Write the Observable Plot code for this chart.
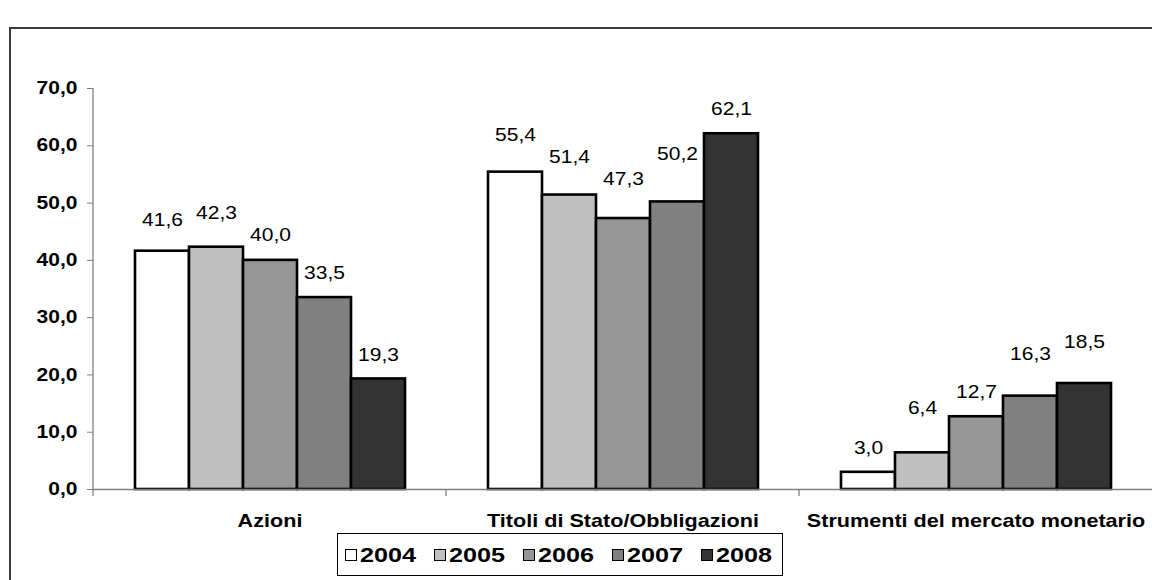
<!DOCTYPE html>
<html>
<head>
<meta charset="utf-8">
<script src="https://cdn.jsdelivr.net/npm/d3@7"></script>
<script src="https://cdn.jsdelivr.net/npm/@observablehq/plot@0.6"></script>
<style>
  html, body { margin: 0; padding: 0; background: #fff; }
  body { width: 1152px; height: 580px; overflow: hidden; position: relative;
         font-family: "Liberation Sans", Arial, sans-serif; }
  #chart { position: absolute; left: 0; top: 0; }
  #frame { position: absolute; left: 9px; top: 27px; width: 1170px; height: 620px;
           border: 2px solid #3a3a3a; box-sizing: border-box; pointer-events: none; }
  #legend { position: absolute; left: 337px; top: 533px; width: 446px; height: 43px;
            border: 1.5px solid #000; box-sizing: border-box; background: #fff; }
  #legend .item { position: absolute; top: 0; height: 100%; display: flex; align-items: center; }
  #legend .swatch { width: 12px; height: 12px; border: 1px solid #000; box-sizing: border-box; margin-right: 3px; }
  #legend .lbl { display: inline-block; font-weight: bold; font-size: 21px; line-height: 21px;
                 transform: scaleX(1.2); transform-origin: left center; color: #000; }
  #chart g[aria-label="y-axis tick label"] { font-size: 17.5px; font-weight: bold; fill: #000; }
  #chart g[aria-label="fx-axis tick label"] { font-size: 18px; font-weight: bold; fill: #000; }
</style>
</head>
<body>
<div id="chart"></div>
<div id="frame"></div>
<div id="legend"></div>
<script>
// Asset mix by instrument type, percentages per year
const categories = ["Azioni", "Titoli di Stato/Obbligazioni", "Strumenti del mercato monetario"];
const years = ["2004", "2005", "2006", "2007", "2008"];
const azioni = [41.6, 42.3, 40.0, 33.5, 19.3];
const titoli = [55.4, 51.4, 47.3, 50.2, 62.1];
const strumenti = [3.0, 6.4, 12.7, 16.3, 18.5];
const yTicks = [0, 10, 20, 30, 40, 50, 60, 70];
const yearColors = ["#ffffff", "#c0c0c0", "#969696", "#808080", "#333333"];

// how far (px) each value label sits above its bar
const azioniLift = [31, 34, 25, 24, 24];
const titoliLift = [37, 38, 39, 48, 24];
const strumentiLift = [24, 44, 24, 42, 41];

const STRETCH = 1.2; // horizontal widening of the typeface
const fmt = v => v.toFixed(1).replace(".", ",");

const series = [azioni, titoli, strumenti];
const lifts = [azioniLift, titoliLift, strumentiLift];
const rows = [];
categories.forEach((c, ci) => years.forEach((yr, yi) =>
  rows.push({category: c, year: yr, value: series[ci][yi], lift: lifts[ci][yi]})));

const labelMarks = [...new Set(rows.map(r => r.lift))].map(l =>
  Plot.text(rows.filter(r => r.lift === l), {
    fx: "category", x: "year", y: "value", text: d => fmt(d.value),
    dy: -l, fontSize: 17.5, fill: "#000"
  }));

const chart = Plot.plot({
  width: 1152,
  height: 540,
  marginLeft: 93,
  marginRight: 0,
  marginTop: 88,
  marginBottom: 51,
  style: {fontFamily: '"Liberation Sans", Arial, sans-serif', background: "transparent", color: "#000"},
  fx: {domain: categories, paddingInner: 0, paddingOuter: 0, label: null},
  x: {domain: years, paddingInner: 0, paddingOuter: 0.745, axis: null},
  y: {domain: [0, 70], label: null},
  color: {domain: years, range: yearColors},
  marks: [
    Plot.barY(rows, {fx: "category", x: "year", y: "value", fill: "year",
                     stroke: "#000", strokeWidth: 2.6, inset: 0}),
    Plot.ruleY([0], {stroke: "#808080", strokeWidth: 1.3}),
    Plot.axisY({ticks: yTicks, tickFormat: fmt, tickSize: 6, tickPadding: 10,
                stroke: "#808080", label: null}),
    Plot.axisFx({anchor: "bottom", tickSize: 0, tickPadding: 25, label: null}),
    ...labelMarks
  ]
});

// y spine and the category separator ticks, from the plot's own scales
const fxs = chart.scale("fx"), ys = chart.scale("y");
const guides = d3.select(chart).append("g").attr("stroke", "#808080").attr("stroke-width", 1.3);
const x0 = fxs.apply(categories[0]);
guides.append("line").attr("x1", x0).attr("x2", x0)
  .attr("y1", ys.apply(yTicks[yTicks.length - 1])).attr("y2", ys.apply(0) + 7);
categories.slice(1).forEach(c => {
  const xc = fxs.apply(c);
  guides.append("line").attr("x1", xc).attr("x2", xc).attr("y1", ys.apply(0)).attr("y2", ys.apply(0) + 7);
});

document.getElementById("chart").appendChild(chart);

// widen glyphs horizontally, keeping each text's anchor point fixed
const svgNS = "http://www.w3.org/2000/svg";
Array.from(chart.querySelectorAll("text")).forEach(t => {
  const bb = t.getBBox();
  const anchor = getComputedStyle(t).textAnchor;
  const lx = anchor === "end" ? bb.x + bb.width : anchor === "middle" ? bb.x + bb.width / 2 : bb.x;
  const ly = bb.y + bb.height / 2;
  const m = t.transform.baseVal.consolidate();
  const ax = m ? m.matrix.a * lx + m.matrix.c * ly + m.matrix.e : lx;
  const wrap = document.createElementNS(svgNS, "g");
  wrap.setAttribute("transform", `translate(${ax},0) scale(${STRETCH},1) translate(${-ax},0)`);
  t.parentNode.insertBefore(wrap, t);
  wrap.appendChild(t);
});

// legend
const legend = d3.select("#legend");
years.forEach((yr, i) => {
  const item = legend.append("div").attr("class", "item").style("left", (7 + i * 89) + "px");
  item.append("div").attr("class", "swatch").style("background", yearColors[i]);
  item.append("span").attr("class", "lbl").text(yr);
});
</script>
</body>
</html>
